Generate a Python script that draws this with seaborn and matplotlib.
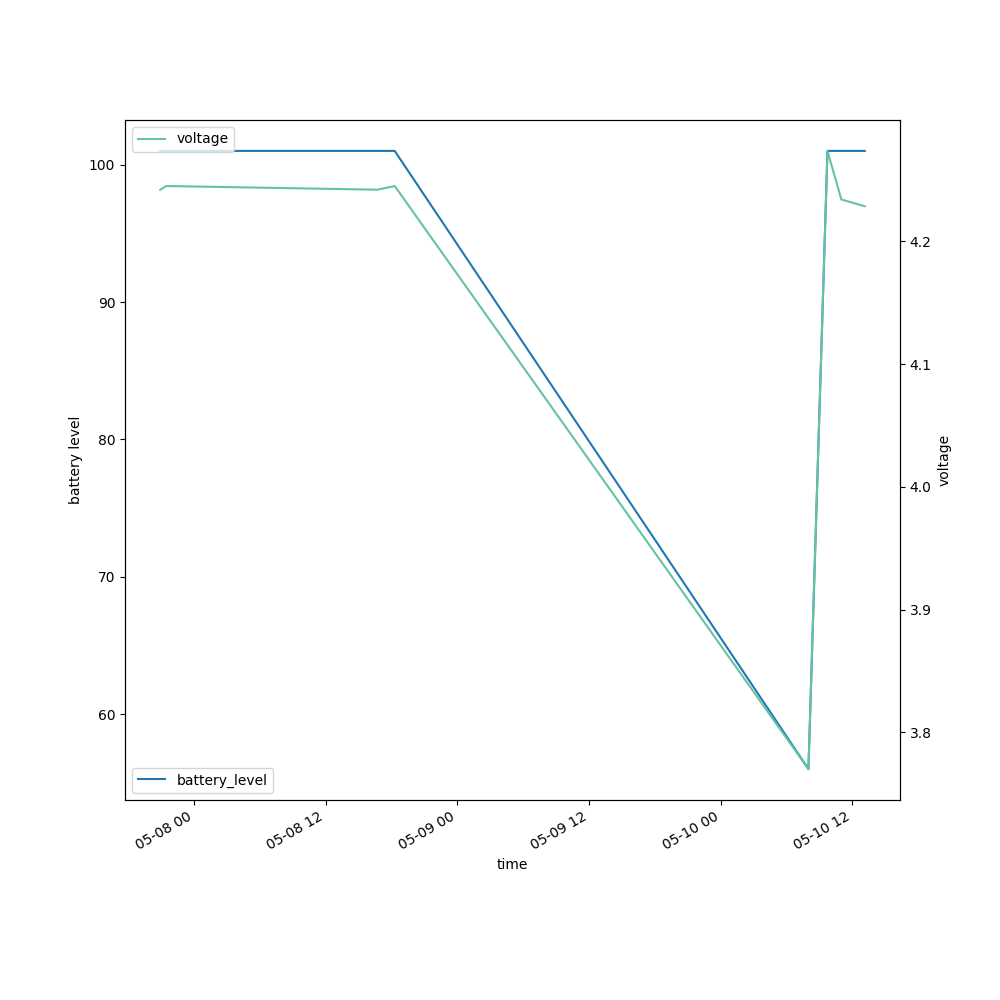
import pandas as pd
import seaborn as sns
import matplotlib
matplotlib.use('Agg')
import matplotlib.pyplot as plt

times = ['2024-05-07 20:56', '2024-05-07 21:30', '2024-05-08 16:44', '2024-05-08 18:18',
         '2024-05-10 08:00', '2024-05-10 09:44', '2024-05-10 11:00', '2024-05-10 13:08']
battery_level = [101, 101, 101, 101, 56, 101, 101, 101]
voltage = [4.242, 4.245, 4.242, 4.245, 3.770, 4.2736, 4.234, 4.2285]

df = pd.DataFrame({'time': pd.to_datetime(times),
                   'battery_level': battery_level,
                   'voltage': voltage})

fig, ax = plt.subplots(figsize=(10, 10), dpi=100)
sns.lineplot(data=df, x='time', y='battery_level', ax=ax, color='#1f77b4', label='battery_level')
ax.set_ylabel('battery level')
ax.legend(loc='lower left')

ax2 = ax.twinx()
sns.lineplot(data=df, x='time', y='voltage', ax=ax2, color='#66c2a5', label='voltage')
ax2.set_ylabel('voltage')
ax2.legend(loc='upper left')

ax.set_xlabel('time')
fig.autofmt_xdate()
fig.savefig('out.png')
